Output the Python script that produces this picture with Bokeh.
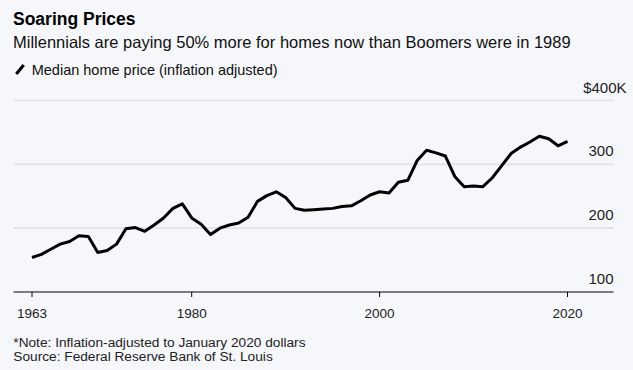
from bokeh.plotting import figure
from bokeh.models import Range1d, Label, Arrow
from bokeh.embed import file_html
from bokeh.resources import INLINE

# ---------------- data ----------------
years = list(range(1963, 2021))
prices = [154, 159, 167, 175, 179, 188, 187, 162, 165, 175,
          199, 201, 195, 205, 216, 231, 238, 216, 206, 190,
          200, 205, 208, 217, 242, 251, 257, 248, 231, 228,
          229, 230, 231, 234, 235, 243, 252, 257, 255, 272,
          275, 306, 322, 318, 313, 281, 265, 266, 265, 279,
          298, 317, 327, 335, 344, 340, 329, 336]
x_ticks = [1963, 1980, 2000, 2020]
x_tick_labels = ["1963", "1980", "2000", "2020"]
y_ticks = [100, 200, 300, 400]
y_tick_labels = ["100", "200", "300", "$400K"]

title_text = "Soaring Prices"
subtitle_text = "Millennials are paying 50% more for homes now than Boomers were in 1989"
legend_text = "Median home price (inflation adjusted)"
note_text = "*Note: Inflation-adjusted to January 2020 dollars"
source_text = "Source: Federal Reserve Bank of St. Louis"

# ---------------- layout / style ----------------
W, H = 633, 370
BG = "#f6f7fb"
FONT = "Liberation Sans"
# plot scales (the frame covers the whole canvas)
X_START, X_END = 1959.647, 2027.025
Y_START, Y_END = -22.98, 556.66
# extent of the axis line / grid lines
AX_L, AX_R = 1961.03, 2024.9
PX_PER_UNIT = H / (Y_END - Y_START)
TICK_LEN = 5 / PX_PER_UNIT
BASE_FIX = 0.33  # baseline correction, in em


def px(size):
    return float(size.replace("px", ""))


p = figure(width=W, height=H, output_backend="svg", toolbar_location=None,
           x_range=Range1d(X_START, X_END), y_range=Range1d(Y_START, Y_END),
           x_axis_location=None, y_axis_location=None,
           min_border=0, min_border_left=0, min_border_right=0,
           min_border_top=0, min_border_bottom=0,
           background_fill_color=BG, border_fill_color=BG)
p.outline_line_color = None
p.grid.visible = False

# horizontal grid lines
grid_vals = [v for v in y_ticks if v > y_ticks[0]]
p.segment(x0=[AX_L] * len(grid_vals), y0=grid_vals, x1=[AX_R] * len(grid_vals), y1=grid_vals,
          line_color="#e1e2e8", line_width=1.6)

# baseline axis + ticks
p.segment(x0=[AX_L], y0=[y_ticks[0]], x1=[AX_R], y1=[y_ticks[0]], line_color="#000000", line_width=1)
p.segment(x0=x_ticks, y0=[y_ticks[0]] * len(x_ticks), x1=x_ticks,
          y1=[y_ticks[0] - TICK_LEN] * len(x_ticks), line_color="#000000", line_width=1)

# data line
p.line(years, prices, line_color="#000000", line_width=3, line_join="round")

# x tick labels
XS = "13.5px"
for v, t in zip(x_ticks, x_tick_labels):
    p.add_layout(Label(x=v, y=y_ticks[0], text=t, y_offset=-25.5 + BASE_FIX * px(XS),
                       text_align="center", text_baseline="alphabetic",
                       text_font=FONT, text_font_size=XS, text_color="#222222"))

# y tick labels (sit above their grid line, right aligned)
YS = "15px"
for v, t in zip(y_ticks, y_tick_labels):
    p.add_layout(Label(x=(626 if t.startswith("$") else 613), x_units="screen", y=v, text=t,
                       y_offset=8.5 + BASE_FIX * px(YS), text_align="right", text_baseline="alphabetic",
                       text_font=FONT, text_font_size=YS, text_color="#222222"))


def screen_label(sx, page_y, text, size, bold=False, color="#111111"):
    p.add_layout(Label(x=sx, y=H - page_y + BASE_FIX * px(size), x_units="screen", y_units="screen",
                       text=text, text_align="left", text_baseline="alphabetic",
                       text_font=FONT, text_font_size=size, text_color=color,
                       text_font_style="bold" if bold else "normal"))


screen_label(12.5, 24, title_text, "17.5px", bold=True, color="#000000")
screen_label(12.5, 46.7, subtitle_text, "16.5px")
screen_label(31.2, 74, legend_text, "14.5px")
screen_label(12.8, 346.3, note_text, "13.7px", color="#222222")
screen_label(12.8, 361, source_text, "13.7px", color="#222222")

# legend key (slash)
p.add_layout(Arrow(end=None, x_start=15.8, y_start=H - 73.5, x_end=23.2, y_end=H - 64.5,
                   start_units="screen", end_units="screen",
                   line_color="#000000", line_width=3))

html = file_html(p, INLINE)
html = html.replace("<head>", "<head><style>html,body{background:%s;}</style>" % BG, 1)
open("out.html", "w").write(html)
